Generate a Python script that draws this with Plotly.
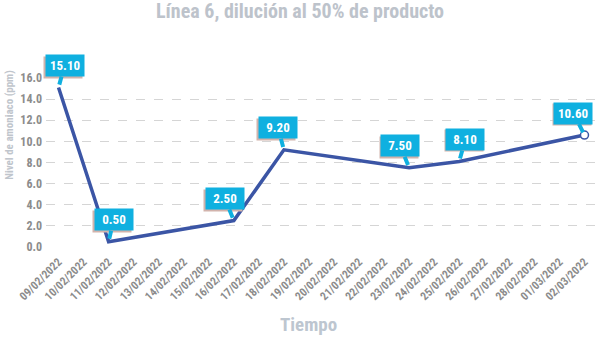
import plotly.graph_objects as go

categories = ["09/02/2022", "10/02/2022", "11/02/2022", "12/02/2022", "13/02/2022",
              "14/02/2022", "15/02/2022", "16/02/2022", "17/02/2022", "18/02/2022",
              "19/02/2022", "20/02/2022", "21/02/2022", "22/02/2022", "23/02/2022",
              "24/02/2022", "25/02/2022", "26/02/2022", "27/02/2022", "28/02/2022",
              "01/03/2022", "02/03/2022"]
point_dates = ["09/02/2022", "11/02/2022", "16/02/2022", "18/02/2022",
               "23/02/2022", "25/02/2022", "02/03/2022"]
values = [15.10, 0.50, 2.50, 9.20, 7.50, 8.10, 10.60]
label_dx = [6, 5, -9, -6, -9, 6, -11]
y_ticks = [0, 2, 4, 6, 8, 10, 12, 14, 16]

FONT = "Liberation Sans Narrow, Roboto Condensed, Arial Narrow, sans-serif"
LINE = "#3B55A5"
CYAN = "#0FB0E0"
SHADOW = "#D2B3AC"

fig = go.Figure()
fig.add_trace(go.Scatter(
    x=point_dates, y=values, mode="lines",
    line=dict(color=LINE, width=3.5), cliponaxis=False, showlegend=False))
fig.add_trace(go.Scatter(
    x=point_dates[-1:], y=values[-1:], mode="markers",
    marker=dict(size=8, color="white", line=dict(color=LINE, width=1.5)),
    cliponaxis=False, showlegend=False))

for d, v, dx in zip(point_dates, values, label_dx):
    # soft shadow behind the callout box (no text)
    fig.add_annotation(
        x=d, y=v, xref="x", yref="y", text=" ",
        showarrow=True, arrowhead=0, arrowwidth=0.1, arrowcolor="rgba(0,0,0,0)",
        ax=dx - 1.5, ay=-20.5, standoff=3,
        bgcolor=SHADOW, borderpad=3, width=32, height=15)
    fig.add_annotation(
        x=d, y=v, xref="x", yref="y", text="<b>%.2f</b>" % v,
        showarrow=True, arrowhead=0, arrowwidth=4, arrowcolor=CYAN,
        ax=dx, ay=-22, standoff=3,
        bgcolor=CYAN, borderpad=3, width=32, height=15,
        font=dict(family=FONT, size=13, color="white"))

fig.add_annotation(x=0.4764, y=-0.458, xref="paper", yref="paper", yanchor="middle",
                   text="<b>Tiempo</b>", showarrow=False,
                   font=dict(family=FONT, size=19, color="#BDC6D0"))
fig.add_annotation(x=-0.066, y=0.721, xref="paper", yref="paper",
                   xanchor="center", yanchor="middle", textangle=-90,
                   text="<b>Nivel de amoniaco (ppm)</b>", showarrow=False,
                   font=dict(family=FONT, size=11, color="#BFC5CC"))

fig.update_layout(
    width=600, height=337,
    margin=dict(l=45.5, r=2.5, t=77.7, b=89.7),
    paper_bgcolor="white", plot_bgcolor="white",
    title=dict(text="<b>Línea 6, dilución al 50% de producto</b>", x=0.5, xanchor="center",
               y=0.966, yanchor="middle",
               font=dict(family=FONT, size=20, color="#BDC3CB")),
    xaxis=dict(type="category", categoryorder="array", categoryarray=categories,
               tickmode="array", tickvals=categories,
               ticktext=["<b>%s</b>" % c for c in categories],
               range=[-0.5, 21.5], tickangle=-45, showgrid=False, zeroline=False,
               showline=False, ticks="", ticklabelstandoff=5,
               tickfont=dict(family=FONT, size=11.5, color="#8C8C8C")),
    yaxis=dict(range=[0, 16], tickvals=y_ticks, ticktext=["<b>%.1f</b>" % t for t in y_ticks],
               showgrid=True, gridcolor="#D5D5D5", griddash="dash", gridwidth=1,
               zeroline=False, showline=False, ticks="", ticklabelstandoff=3,
               tickfont=dict(family=FONT, size=12, color="#8C8C8C")),
)
fig.write_html("out.html")
